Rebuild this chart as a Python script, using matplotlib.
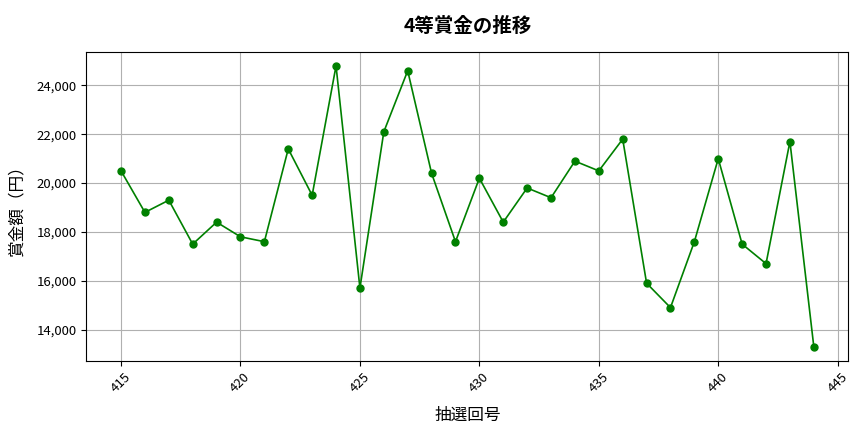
import matplotlib.pyplot as plt
from matplotlib.ticker import FuncFormatter

plt.rcParams['font.family'] = ['Noto Sans CJK JP', 'DejaVu Sans']

# draw numbers and 4th prize amounts (yen)
draws = [415, 416, 417, 418, 419, 420, 421, 422, 423, 424,
         425, 426, 427, 428, 429, 430, 431, 432, 433, 434,
         435, 436, 437, 438, 439, 440, 441, 442, 443, 444]
prizes = [20500, 18800, 19300, 17500, 18400, 17800, 17600, 21400, 19500, 24800,
          15700, 22100, 24600, 20400, 17600, 20200, 18400, 19800, 19400, 20900,
          20500, 21800, 15900, 14900, 17600, 21000, 17500, 16700, 21700, 13300]

title = '4等賞金の推移'
xlabel = '抽選回号'
ylabel = '賞金額（円）'

fig, ax = plt.subplots(figsize=(8.64, 4.32), dpi=100)
ax.plot(draws, prizes, marker='o', color='green', linewidth=1.2, markersize=5)

ax.set_title(title, fontsize=14, fontweight='bold', pad=14)
ax.set_xlabel(xlabel, fontsize=12, labelpad=8)
ax.set_ylabel(ylabel, fontsize=12, labelpad=8)
ax.yaxis.set_major_formatter(FuncFormatter(lambda v, p: f'{int(v):,}'))
ax.tick_params(axis='x', rotation=45)
ax.tick_params(labelsize=9.5)
ax.grid(True, color='#b0b0b0', linewidth=0.8)

fig.subplots_adjust(left=0.1, right=0.982, top=0.88, bottom=0.165)
fig.savefig('out.png')
